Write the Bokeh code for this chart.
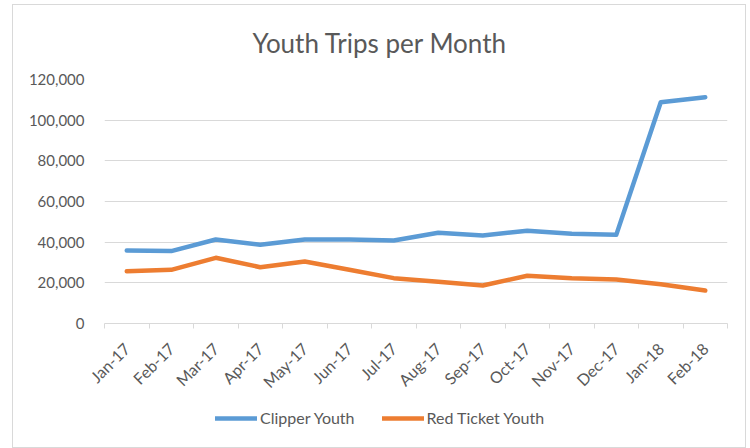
from math import pi
from bokeh.plotting import figure
from bokeh.layouts import column
from bokeh.models import (ColumnDataSource, FixedTicker, NumeralTickFormatter,
                          Range1d, Legend, LegendItem)
from bokeh.embed import file_html
from bokeh.resources import INLINE

months = ["Jan-17", "Feb-17", "Mar-17", "Apr-17", "May-17", "Jun-17", "Jul-17",
          "Aug-17", "Sep-17", "Oct-17", "Nov-17", "Dec-17", "Jan-18", "Feb-18"]
clipper_youth = [35900, 35600, 41300, 38700, 41300, 41300, 40800,
                 44600, 43300, 45600, 44100, 43600, 108800, 111300]
red_ticket_youth = [25700, 26400, 32300, 27700, 30500, 26400, 22300,
                    20500, 18700, 23500, 22300, 21600, 19300, 16200]
y_ticks = [0, 20000, 40000, 60000, 80000, 100000, 120000]
series_names = ["Clipper Youth", "Red Ticket Youth"]
series_colors = ["#5B9BD5", "#ED7D31"]

FONT = "Lato"
TXT = "#595959"
GRID = "#d9d9d9"

idx = list(range(len(months)))
src = ColumnDataSource(dict(x=idx, clipper=clipper_youth, red=red_ticket_youth))

p = figure(width=732, height=402, output_backend="svg", toolbar_location=None,
           x_range=Range1d(-0.5, len(months) - 0.5), y_range=Range1d(0, 120000),
           min_border_left=91, min_border_right=18, min_border_top=74,
           min_border_bottom=84)
p.outline_line_color = None
p.background_fill_color = "white"
p.border_fill_color = "white"

p.title.text = "Youth Trips per Month"
p.title.text_font = FONT
p.title.text_font_size = "26px"
p.title.text_font_style = "normal"
p.title.text_color = TXT
p.title.align = "left"
p.title.offset = 148
p.title.vertical_align = "middle"
p.title.standoff = 39

p.line("x", "clipper", source=src, line_color=series_colors[0], line_width=4.5,
       line_join="round", line_cap="round")
p.line("x", "red", source=src, line_color=series_colors[1], line_width=4.5,
       line_join="round", line_cap="round")

# x axis
xa = p.xaxis[0]
xa.ticker = FixedTicker(ticks=idx, minor_ticks=[i - 0.5 for i in range(len(months) + 1)])
xa.major_label_overrides = {i: m for i, m in enumerate(months)}
xa.major_label_orientation = pi / 4
xa.major_tick_line_color = None
xa.minor_tick_line_color = GRID
xa.minor_tick_out = 5
xa.minor_tick_in = 0
xa.axis_line_color = GRID
xa.major_label_text_font = FONT
xa.major_label_text_font_size = "16px"
xa.major_label_text_color = TXT
xa.major_label_standoff = 16

# y axis
ya = p.yaxis[0]
ya.ticker = FixedTicker(ticks=y_ticks)
ya.formatter = NumeralTickFormatter(format="0,0")
ya.axis_line_color = None
ya.major_tick_line_color = None
ya.minor_tick_line_color = None
ya.major_label_text_font = FONT
ya.major_label_text_font_size = "15px"
ya.major_label_text_color = TXT
ya.major_label_standoff = 14

p.xgrid.grid_line_color = None
p.ygrid.grid_line_color = GRID
p.ygrid.grid_line_width = 1

# legend strip (swatches only; proxy renderers hold no visible data)
lf = figure(width=732, height=40, output_backend="svg", toolbar_location=None,
            x_range=Range1d(0, 1), y_range=Range1d(0, 1),
            x_axis_location=None, y_axis_location=None,
            min_border_left=0, min_border_right=0, min_border_top=0,
            min_border_bottom=0)
lf.outline_line_color = None
lf.grid.grid_line_color = None
lf.border_fill_color = "white"
items = []
for name, col in zip(series_names, series_colors):
    r = lf.line(x=[float("nan"), float("nan")], y=[float("nan"), float("nan")],
                line_color=col, line_width=4.5, line_cap="round")
    items.append(LegendItem(label=name, renderers=[r]))
legend = Legend(items=items, orientation="horizontal", location=(111, 20),
                glyph_width=42, glyph_height=16, label_height=16,
                label_standoff=3, spacing=27, padding=0, margin=0,
                border_line_color=None, background_fill_alpha=0,
                label_text_font=FONT, label_text_font_size="16px",
                label_text_color=TXT)
lf.add_layout(legend)

layout = column(p, lf, spacing=0)
layout.styles = {"border": "1px solid #d9d9d9", "margin-left": "12px",
                 "margin-top": "4px"}

open("out.html", "w").write(file_html(layout, INLINE))
